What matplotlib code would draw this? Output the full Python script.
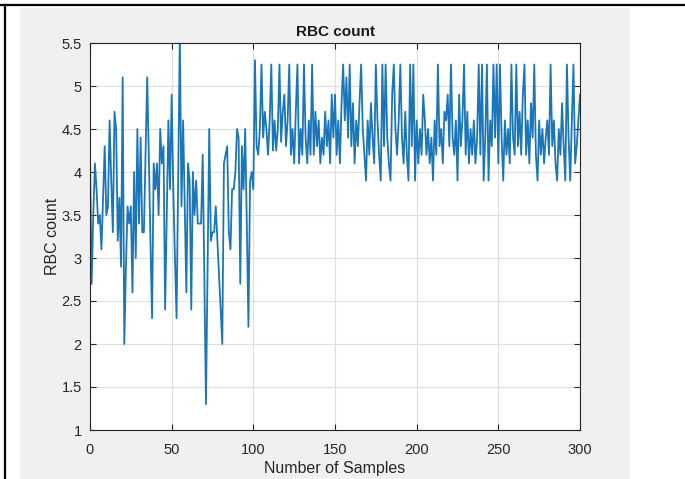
import numpy as np
import matplotlib
matplotlib.use("Agg")
import matplotlib.pyplot as plt
from matplotlib.patches import Rectangle
from matplotlib.lines import Line2D

# RBC count per sample (samples 0..300)
rbc_first = [
    4.2, 2.7, 3.5, 4.1, 3.8, 3.4, 3.5, 3.1, 3.7, 4.3,
    3.5, 3.6, 4.6, 3.9, 3.3, 4.7, 4.5, 3.2, 3.7, 2.9,
    5.1, 2.0, 2.9, 3.6, 3.4, 3.6, 2.6, 4.0, 3.0, 4.5,
    3.4, 4.4, 3.3, 3.3, 4.2, 5.1, 4.2, 3.2, 2.3, 4.1,
    3.8, 4.1, 3.5, 4.5, 4.1, 4.3, 2.4, 3.5, 4.6, 3.8,
    4.9, 3.8, 3.0, 2.3, 4.0, 5.6, 3.6, 4.6, 3.6, 2.6,
    4.1, 3.9, 2.4, 4.0, 3.5, 3.9, 3.4, 3.4, 3.4, 4.2,
    2.8, 1.3, 2.9, 4.5, 3.2, 3.3, 3.3, 3.6, 3.2, 2.8,
    2.4, 2.0, 4.1, 4.2, 4.3, 3.3, 3.1, 3.8, 3.8, 4.0,
    4.5, 4.4, 2.7, 4.3, 3.8, 4.5, 3.4, 2.2, 3.9, 4.0,
    3.8,
]
rbc_second = [
    5.3, 4.3, 4.2, 4.5, 5.25, 4.4, 4.7, 4.5, 4.2, 4.6,
    5.25, 4.25, 4.6, 4.25, 4.5, 5.25, 4.35, 4.7, 4.9, 4.3,
    4.6, 5.25, 4.2, 4.5, 4.1, 4.7, 5.25, 4.1, 4.5, 4.2,
    5.25, 4.4, 4.1, 4.6, 4.2, 5.25, 4.2, 4.7, 4.3, 4.6,
    4.1, 4.4, 4.2, 4.7, 4.3, 4.6, 4.1, 4.9, 4.4, 4.9,
    4.2, 4.6, 4.1, 4.8, 5.25, 4.6, 5.1, 4.4, 5.25, 4.3,
    4.8, 4.1, 4.6, 4.3, 4.8, 5.25, 4.5, 4.2, 3.9, 4.6,
    4.2, 4.8, 4.4, 4.1, 5.25, 4.6, 4.2, 3.9, 5.25, 4.3,
    5.25, 4.4, 4.1, 3.9, 4.9, 5.25, 4.5, 4.2, 4.6, 5.25,
    4.4, 4.1, 4.7, 4.2, 3.9, 5.25, 4.3, 5.25, 3.9, 4.6,
    4.1, 4.5, 4.2, 4.9, 4.6, 4.2, 4.5, 4.1, 4.4, 3.9,
    4.6, 4.2, 5.25, 4.3, 4.5, 4.1, 4.7, 4.6, 4.9, 4.3,
    5.25, 4.4, 4.2, 4.6, 3.9, 4.9, 4.3, 4.6, 5.25, 4.2,
    4.7, 4.1, 4.5, 4.2, 4.6, 4.1, 4.4, 5.25, 4.2, 5.25,
    3.9, 4.4, 5.25, 3.9, 4.6, 4.3, 5.25, 4.4, 5.25, 4.1,
    5.25, 4.4, 3.9, 4.6, 4.2, 4.5, 4.1, 5.25, 4.4, 4.2,
    5.25, 4.3, 4.7, 4.2, 4.9, 5.25, 4.2, 4.6, 4.1, 4.8,
    4.4, 5.25, 4.2, 3.9, 4.6, 4.2, 4.5, 4.1, 4.4, 4.6,
    4.2, 5.25, 4.3, 4.6, 4.1, 3.9, 4.5, 4.2, 4.8, 4.3,
    3.9, 5.25, 4.4, 3.9, 4.6, 5.25, 4.1, 4.3, 4.6, 4.9,
]
rbc = np.array(rbc_first + rbc_second)
samples = np.arange(len(rbc))

xticks = [0, 50, 100, 150, 200, 250, 300]
yticks = [1, 1.5, 2, 2.5, 3, 3.5, 4, 4.5, 5, 5.5]
ytick_labels = ["1", "1.5", "2", "2.5", "3", "3.5", "4", "4.5", "5", "5.5"]

plt.rcParams['font.family'] = ['Liberation Sans', 'DejaVu Sans']

W, H = 685, 479
fig = plt.figure(figsize=(W / 100, H / 100), dpi=100)
fig.patch.set_facecolor('white')

# grey MATLAB figure panel
fig.patches.append(Rectangle((20 / W, 0), (630 - 20) / W, 1 - 8 / H,
                             transform=fig.transFigure, facecolor='#f0f0f0',
                             edgecolor='none', zorder=-2))
# black table-cell borders
fig.lines.append(Line2D([0, 1], [1 - 5 / H, 1 - 5 / H], transform=fig.transFigure,
                        color='black', lw=1.6, zorder=-1))
fig.lines.append(Line2D([4.5 / W, 4.5 / W], [0, 1 - 5 / H], transform=fig.transFigure,
                        color='black', lw=1.6, zorder=-1))

ax = fig.add_axes([90 / W, 1 - 430 / H, (580 - 90) / W, (430 - 43) / H])
ax.set_facecolor('white')
ax.plot(samples, rbc, color='#1a76b8', lw=1.3, clip_on=True)

ax.set_xlim(0, 300)
ax.set_ylim(1, 5.5)
ax.set_xticks(xticks)
ax.set_yticks(yticks)
ax.set_yticklabels(ytick_labels)
ax.grid(True, color='#dedede', lw=0.8)
ax.set_axisbelow(True)
ax.tick_params(direction='in', top=True, right=True, length=4, width=0.8,
               colors='#262626', labelsize=10.5)
ax.tick_params(axis='x', pad=9)
ax.tick_params(axis='y', pad=6)
for sp in ax.spines.values():
    sp.set_color('#262626')
    sp.set_linewidth(0.8)

ax.set_title('RBC count', fontsize=11, fontweight='bold', color='#1a1a1a', pad=5)
ax.set_xlabel('Number of Samples', fontsize=11.5, color='#262626', labelpad=3)
ax.set_ylabel('RBC count', fontsize=11.5, color='#262626', labelpad=1)

fig.savefig('out.png', dpi=100)
